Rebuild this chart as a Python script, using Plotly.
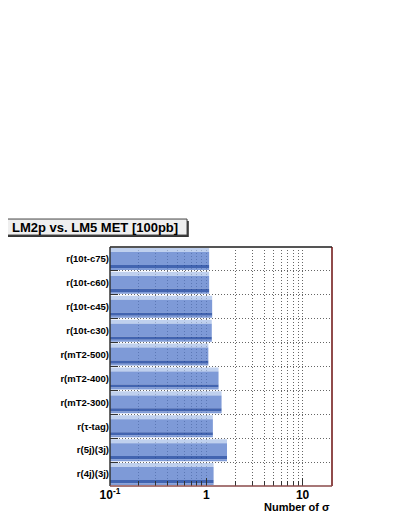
import plotly.graph_objects as go

categories = ["r(10t-c75)", "r(10t-c60)", "r(10t-c45)", "r(10t-c30)", "r(mT2-500)",
              "r(mT2-400)", "r(mT2-300)", "r(\u03c4-tag)", "r(5j)(3j)", "r(4j)(3j)"]
sigma = [1.07, 1.07, 1.15, 1.14, 1.05, 1.34, 1.44, 1.17, 1.64, 1.19]

major_ticks = [0.1, 1, 10]
major_text = ["10<sup>-1</sup>", "1", "10"]
minor_ticks = [0.2, 0.3, 0.4, 0.5, 0.6, 0.7, 0.8, 0.9, 2, 3, 4, 5, 6, 7, 8, 9, 20]

# strips of each bar (offset, width, colour) - top to bottom within the band
strips = [
    (-0.46, 0.17, "rgba(170,192,232,0.75)"),
    (-0.29, 0.54, "rgba(90,126,204,0.78)"),
    (0.25, 0.13, "rgba(40,78,165,0.88)"),
    (0.38, 0.08, "rgba(95,130,205,0.8)"),
]

fig = go.Figure()
for off, w, col in strips:
    fig.add_trace(go.Bar(
        x=sigma, y=categories, orientation="h",
        offset=off, width=w, marker=dict(color=col, line=dict(width=0)),
        showlegend=False, hoverinfo="x+y"))

fig.update_layout(
    width=391, height=508,
    margin=dict(l=102, r=67, t=239, b=30),
    paper_bgcolor="white", plot_bgcolor="white",
    barmode="overlay",
    font=dict(family="Liberation Sans, Arial, sans-serif", color="black"),
    xaxis=dict(
        type="log", range=[-1, 1.305],
        tickmode="array", tickvals=major_ticks, ticktext=major_text,
        tickfont=dict(size=12, family="Liberation Sans", color="black", weight="bold"),
        ticks="inside", ticklen=8, tickcolor="#333",
        showgrid=True, gridcolor="#666", griddash="1px,2px", gridwidth=1,
        minor=dict(tickmode="array", tickvals=minor_ticks, ticks="inside", ticklen=5,
                   tickcolor="#333", showgrid=True, gridcolor="#666", griddash="1px,2px"),
        showline=False, zeroline=False,
    ),
    yaxis=dict(
        autorange="reversed", type="category",
        tickson="boundaries", ticks="inside", ticklen=8, tickcolor="#333",
        showgrid=True, gridcolor="#666", griddash="1px,2px", gridwidth=1,
        tickfont=dict(size=9.5, family="Liberation Sans", color="black", weight="bold"),
        showline=False, zeroline=False,
    ),
    shapes=[
        # frame
        dict(type="line", xref="paper", yref="paper", x0=0, x1=1, y0=1, y1=1,
             line=dict(color="#555", width=2)),
        dict(type="line", xref="paper", yref="paper", x0=0, x1=0, y0=0, y1=1,
             line=dict(color="#333", width=1.5)),
        dict(type="line", xref="paper", yref="paper", x0=1, x1=1, y0=0, y1=1,
             line=dict(color="#6b0f0f", width=1.5)),
        dict(type="line", xref="paper", yref="paper", x0=0, x1=1, y0=0, y1=0,
             line=dict(color="#8a4a4a", width=1.5)),
        # title box shadow and box
        dict(type="rect", xref="paper", yref="paper", x0=-0.474, x1=0.355, y0=1.042, y1=1.109,
             fillcolor="#333", line=dict(width=0)),
        dict(type="rect", xref="paper", yref="paper", x0=-0.482, x1=0.347, y0=1.050, y1=1.117,
             fillcolor="#efefef", line=dict(color="#444", width=1)),
    ],
    annotations=[
        dict(text="<b>LM2p vs. LM5 MET [100pb]</b>", xref="paper", yref="paper",
             x=-0.0675, y=1.0835, xanchor="center", yanchor="middle", showarrow=False,
             font=dict(size=13, family="Liberation Sans", color="black")),
        dict(text="<b>Number of \u03c3</b>", xref="paper", yref="paper",
             x=1.0, y=-0.087, xanchor="right", yanchor="middle", showarrow=False,
             font=dict(size=11, family="Liberation Sans", color="black")),
    ],
)

fig.write_html("out.html")
